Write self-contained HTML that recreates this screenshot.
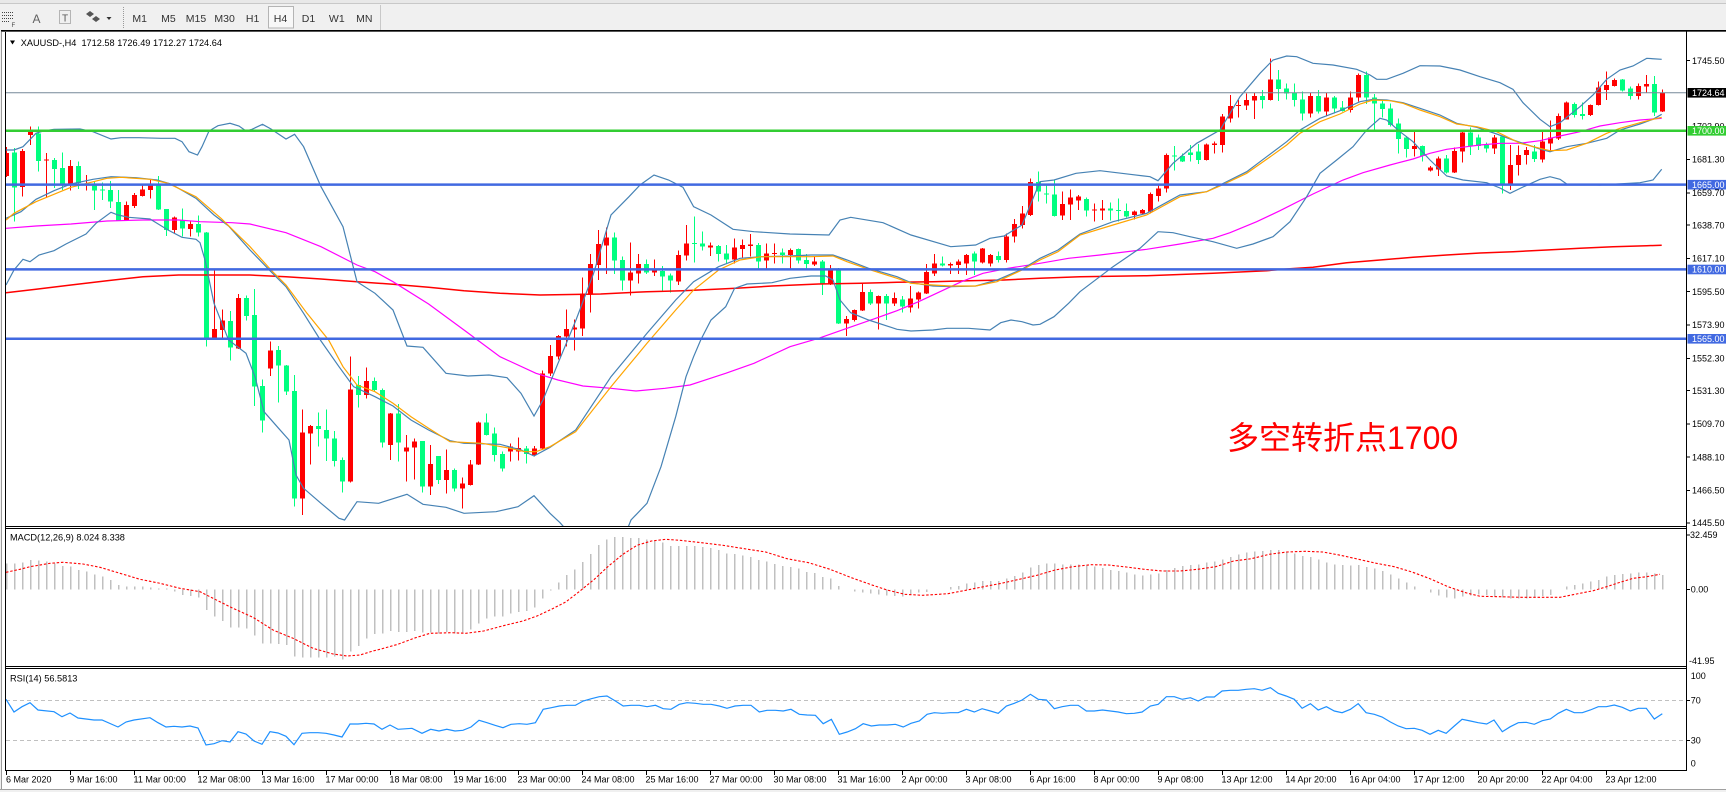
<!DOCTYPE html>
<html><head><meta charset="utf-8">
<style>
html,body{margin:0;padding:0;width:1726px;height:792px;overflow:hidden;background:#f0f0f0;}
svg{display:block;font-family:"Liberation Sans","Noto Sans CJK SC",sans-serif;}
.ax{font-size:9px;fill:#000;}
.tb{font-size:10.5px;fill:#333;text-anchor:middle;}
</style></head><body>
<svg id="s" width="1726" height="792" viewBox="0 0 1726 792" xmlns="http://www.w3.org/2000/svg">
<defs>
<clipPath id="cm"><rect x="6" y="31.5" width="1680" height="494.5"/></clipPath>
<clipPath id="cd"><rect x="6" y="529" width="1680" height="137"/></clipPath>
<clipPath id="cr"><rect x="6" y="669" width="1680" height="101"/></clipPath>
</defs>
<!-- toolbar -->
<rect x="0" y="0" width="1726" height="30" fill="#f0f0f0"/>
<rect x="0" y="0" width="1726" height="3" fill="#e8e8e8"/>
<line x1="0" y1="3.5" x2="1726" y2="3.5" stroke="#c8c8c8"/>
<g stroke="#444" stroke-dasharray="1 1">
<line x1="2" y1="12.5" x2="14" y2="12.5"/><line x1="2" y1="15.5" x2="14" y2="15.5"/>
<line x1="2" y1="18.5" x2="14" y2="18.5"/><line x1="2" y1="21.5" x2="10" y2="21.5"/>
</g>
<text x="11.5" y="27" style="font-size:6px;fill:#444">F</text>
<text x="32.5" y="23" style="font-size:12px;fill:#606060">A</text>
<rect x="59.5" y="10.5" width="11" height="13" fill="none" stroke="#777" stroke-dasharray="1 1"/>
<text x="62" y="21.5" style="font-size:10px;fill:#555">T</text>
<path d="M86 14 L90 11 L94 14 L90 17Z M92 19 L96 16 L100 19 L96 22Z" fill="#555"/>
<polygon points="106.5,17 111.5,17 109,20" fill="#333"/>
<line x1="123.5" y1="7" x2="123.5" y2="28" stroke="#999" stroke-dasharray="1 1"/>
<rect x="268.5" y="6.5" width="25" height="21.5" fill="#f8f8f8" stroke="#b4b4b4"/>
<text class="tb" x="139.7" y="22">M1</text>
<text class="tb" x="168.4" y="22">M5</text>
<text class="tb" x="196" y="22">M15</text>
<text class="tb" x="224.6" y="22">M30</text>
<text class="tb" x="252.6" y="22">H1</text>
<text class="tb" x="280.5" y="22">H4</text>
<text class="tb" x="308.5" y="22">D1</text>
<text class="tb" x="336.8" y="22">W1</text>
<text class="tb" x="364.3" y="22">MN</text>
<line x1="380.5" y1="5" x2="380.5" y2="30" stroke="#c8c8c8"/>

<!-- chart window -->
<rect x="2" y="30" width="1724" height="759" fill="#fff"/>
<rect x="0" y="789" width="1726" height="3" fill="#f0f0f0"/>
<line x1="0" y1="789.5" x2="1726" y2="789.5" stroke="#a0a0a0"/>
<line x1="1.5" y1="30" x2="1.5" y2="789" stroke="#9a9a9a"/>

<!-- RSI levels -->
<g clip-path="url(#cr)" stroke="#c0c0c0" stroke-dasharray="4 3">
<line x1="6" y1="700.5" x2="1686" y2="700.5"/><line x1="6" y1="740.5" x2="1686" y2="740.5"/>
</g>

<!-- candles (JS) -->
<g id="candles" clip-path="url(#cm)" shape-rendering="crispEdges"></g>

<!-- indicators main -->
<g clip-path="url(#cm)" fill="none" stroke-width="1.2">
<polyline stroke="#ff0000" stroke-width="1.5" points="6,292.7 36,289.3 71,285 107,280.7 143,276.7 178.6,275 214,275 250,275 286,276.7 321,279 357,281.7 393,284.3 428.6,287.3 464,290.7 500,293.3 540,295 600.7,294 647,291.7 683,290.7 736,288.3 772,286 818.6,284 861,283.3 897,282.3 933,281.7 968.6,280.7 1004,280 1040,278.3 1080,276.7 1146.7,275.7 1213,273.3 1266.7,270.7 1290,268.7 1313,267.3 1346.7,262.7 1380,260 1413,257.3 1446.7,255 1480,253 1513,251.7 1546.7,250 1580,248.3 1613,246.7 1646.7,245.7 1661.7,245.3"/>
<polyline stroke="#ff00ff" points="6,228.3 36,226 71,224 107,221 143,220 178.6,220 200,221.7 232,222.7 250,224 286,232.7 321,246.7 357,265 375,271.7 393,281.7 428.6,304 464,330 500,356.7 536,373.3 558,380 583,386 611,388.3 636,391 665,388.3 690,385 725.7,373.3 754,363.3 790,346.7 818.6,338.3 847,328.3 875.7,318.3 897,310.7 918.6,301.7 940,291.7 961.4,281.7 983,273.3 1008,268.3 1040,263.3 1068.6,258.3 1100,255 1146.7,249.3 1180,244 1213,238.3 1230,232.7 1256.7,221.7 1280,210.7 1313,194 1343,180 1363,172.7 1390,165 1413,159 1430,153.3 1446.7,149.3 1466.7,146.7 1480,145 1500,143.3 1520,143.3 1540,140.7 1560,136 1580,131.7 1600,126 1620,122.7 1640,120 1661.7,118.3"/>
<polyline stroke="#4682b4" points="6,150 14,150 23,146.7 36,133.3 43,131 54,129.3 80,129 93,131.7 111,139 121,137.7 139,137.7 161,138.3 175,138.3 182,141.7 189,151.7 197.5,155 202,146.7 209,131 218,125.7 230,123.3 239,126 246,131 252,129.3 262.5,124.3 271,129 286,139 294.6,134.3 303.6,146.7 321,186.7 343,226.7 357,281.7 375,293.3 393,310 407,346 423,347.3 446,373.3 468,376 489,375 507,377.7 521,393.3 534,416 543,400 558,363.3 576,320 593.6,273.3 611,215 629,196.7 640,185 654,175 668.6,180 683,187.3 693.6,206.7 711,215 733,229.3 754,231.7 790,234 829,235 840,220 850.7,217.3 883,222.7 911,235 950.7,246.7 975.7,245 990,238.3 1004,236 1022,225 1040,181.7 1054,180 1076,173.3 1100,170.7 1130,174.3 1150,176.7 1158,180.7 1173,163.3 1196.7,143.3 1220,130 1240,96.7 1260,73.3 1273,60 1286.7,56 1296.7,56.7 1313,63.3 1333,65 1356.7,69.3 1370,75 1376.7,79.3 1386.7,79.3 1403,73.3 1420,65.7 1440,66 1460,70 1480,76.7 1500,82.7 1513,89.3 1523,102.7 1540,119.3 1550,126.7 1560,122.7 1580,106.7 1593,95 1606.7,79.3 1620,70 1633,66 1646.7,58.3 1661.7,59.3"/>
<polyline stroke="#4682b4" points="6,218.3 21,211.7 36,199.3 54,190.7 71,184 93,179.3 111,176.7 136,177.7 157,180 171,184 196,198.3 214,215 228.6,226 250,250 271,271.7 286,286.7 303.6,313.3 321,341 339,366.7 353.6,386.7 375,396.7 393,406 411,420 428.6,430 450,440.7 464,443.3 500,444.3 521,450 534,456 550,447.3 575.7,430 611,376.7 647,333.3 675.7,300 693.6,281.7 718.6,266.7 740,258.3 761,256.7 790,256 811,255 833,255 847,260 868.6,268.3 897,276.7 911,282.7 933,286 950.7,286.7 975.7,286 997,280 1022,269.3 1040,258.3 1058,250 1080,234 1113,221.7 1146.7,213.3 1180,195 1206.7,191.7 1220,185 1246.7,171.7 1266.7,156.7 1286.7,141.7 1300,130 1320,118.3 1340,110.7 1360,101.7 1373,99.3 1386.7,100 1403,102.7 1420,108.3 1440,115 1456.7,123.3 1476.7,127.3 1496.7,134 1513,140 1540,149 1550,151.7 1566.7,146.7 1586.7,143.3 1606.7,138.3 1620,130 1640,124 1653,119.3 1661.7,114.3"/>
<polyline stroke="#4682b4" points="6,285 14,270 23,259.3 30,261.7 39,255 54,250.7 66,244 86,234 96,223.3 111,212.3 118,215 128.6,217.3 150,219 157,223.3 168,230 182,237.3 196,239.3 200,242.7 205,260 214,303.3 228.6,340 246,353.3 255,376.7 264,411.7 278.6,428.3 289,440 296,475 303.6,488.3 321,503.3 339,518.3 344.6,520 357,501.7 378.6,503.3 407,494.3 423,504.3 446,507.3 464,513.3 496,511.7 518,506.7 534,495.7 550,513.3 560,522.7 580,545 605,555 625,535 631,520 647,503.3 661,466.7 675.7,416.7 686,376.7 693.6,356.7 700.7,340 711,320 725.7,306.7 734.6,288.3 747,284 772,282.7 790,278.3 811,276 825.7,276 833,280 840,300 850.7,312.7 868.6,320 897,329.3 911,331 933,330 947,328.3 968.6,328.3 990,330 1000.7,322.7 1011,320 1022,321.7 1033,325 1040,324.3 1054,316.7 1068.6,303.3 1080,291.7 1113,266.7 1140,248.3 1158,231.7 1173,232.7 1190,236.7 1213,241.7 1236.7,248.3 1253,244 1273,236.7 1290,221.7 1306.7,196.7 1320,173.3 1336.7,160 1353,146.7 1366.7,130 1380,118.3 1386.7,120 1400,131.7 1413,141.7 1430,160 1446.7,176 1463,180 1486.7,182.7 1500,188 1510,193.3 1523,187 1540,179.3 1550,176.7 1560,179.3 1566.7,184 1600,185 1640,182.7 1653,180 1661.7,169.3"/>
<polyline stroke="#ffa500" points="6,220 14,213.3 36,201.7 71,187.3 107,178.3 121,177.3 150,179.3 168,183.3 196,196.7 221,218.3 250,246.7 271,270 286,285 307,313.3 328.6,340 343,366.7 357,385 375,391.7 393,403.3 411,416.7 428.6,428.3 450,441.7 482,443.3 507,447.7 525,451.7 536,451.7 550,446.7 575.7,431.7 611,386.7 647,343.3 675.7,310 693.6,290 718.6,270 740,260 761,256.7 790,256.7 811,256.7 833,256 847,261.7 868.6,269.3 897,278.3 911,283.3 933,285 950.7,286 975.7,286 997,281.7 1022,270 1040,260 1058,251.7 1080,235 1113,225 1146.7,215 1180,196.7 1206.7,191.7 1220,186 1246.7,173.3 1266.7,159.3 1286.7,145 1300,133.3 1320,121.7 1340,114 1360,104 1373,100 1390,100.7 1403,103.3 1420,110 1440,116.7 1456.7,124 1476.7,126.7 1496.7,131.7 1520,143.3 1540,148.3 1550,150.7 1566.7,150 1586.7,143.3 1606.7,133.3 1620,128.3 1640,122.7 1653,119.3 1661.7,117.3"/>
</g>

<!-- horizontal lines -->
<g clip-path="url(#cm)">
<line x1="6" y1="92.7" x2="1686" y2="92.7" stroke="#778899" stroke-width="1"/>
<line x1="6" y1="130.7" x2="1686" y2="130.7" stroke="#32cd32" stroke-width="2.5"/>
<line x1="6" y1="184.6" x2="1686" y2="184.6" stroke="#4169e1" stroke-width="2.5"/>
<line x1="6" y1="269.4" x2="1686" y2="269.4" stroke="#4169e1" stroke-width="2.5"/>
<line x1="6" y1="338.7" x2="1686" y2="338.7" stroke="#4169e1" stroke-width="2.5"/>
</g>

<text x="1227" y="449" style="font-size:32px;fill:#ff0000;font-family:'Liberation Sans','Noto Sans CJK SC',sans-serif">多空转折点1700</text>

<!-- MACD -->
<g id="macd" clip-path="url(#cd)" shape-rendering="crispEdges"></g>
<g clip-path="url(#cd)">
<polyline fill="none" stroke="#ff0000" stroke-width="1.1" stroke-dasharray="2.5 1.8" points="6,572.3 20,569.3 30,566.7 50,563.3 63,562.3 83,564 100,567.3 120,573.3 140,579.3 160,583.3 180,588.3 200,591.7 213,598.3 233,608.3 253,617.3 273,630 293,638.3 313,648.3 333,654 347,656 360,655 373,651 380,649.3 397.9,644.3 415.7,637.7 430,633.3 451.4,632.7 465.7,633.3 483.6,631 505,625.3 522.9,621 537,616 551.4,609.3 565.7,602 580,591 594.3,579.3 608.6,566 622.9,554.3 637,545.3 651.4,541 665.7,539.3 680,540.3 701.4,542.7 722.9,545.3 744.3,548.7 765.7,552 787,558.7 808.6,562.7 830,569.3 851.4,577.7 872.9,585.3 887,590 905,594.3 922.9,595.3 947.9,593.7 965.7,590.3 983.6,586.7 1001.4,583.3 1019.3,579.3 1037,575.3 1055,570 1072.9,566.7 1090.7,564.7 1108.6,565 1126.4,567 1144.3,569.3 1162,571 1180,571 1197.9,569.3 1215.7,566.7 1233.6,561 1251.4,558.7 1269.3,554.3 1287,552 1305,551.3 1322.9,552 1340.7,555.3 1358.6,559.3 1376.4,563.3 1394.3,566.7 1412,572 1430,578.7 1447.9,586.7 1465.7,592.7 1480,596.3 1500,596.7 1520,597.3 1540,597.3 1560,597.3 1580,593.3 1593.3,590.7 1606.7,586.7 1620,582.3 1633.3,578.3 1646.7,576.7 1660,574.3"/>
</g>

<!-- RSI -->
<g clip-path="url(#cr)">
<polyline fill="none" stroke="#1e90ff" stroke-width="1.2" points="6,699.3 14,712 22,706.7 30,702.7 38,710 54,711.7 62,716.7 70,713 78,718 94,720 102,720 118,727 126,722 134,720 150,717.7 158,722.7 166,727 174,726.3 182,727 190,726 198,728 206,745 214,743.7 222,740.7 230,742 238,731.7 246,734 254,741 262,744.3 270,731.7 278,733 286,736.3 294,744.7 302,733.3 310,732.7 318,732.7 326,733.3 334,735 342,737 350,724 358,724 366,723.3 374,724 382,729.3 390,725 398,729.3 412,728.3 422,733.3 430.7,729.3 439,731 446.8,729.3 455,731 462.9,730.3 471,727 479,720.3 487,722.7 495,725.3 503,727.7 511,724.3 519.3,723.7 527,724.3 535.4,722.7 543.2,709.3 551.4,707.7 559.3,706 567,705.3 575.4,705.3 583.2,701 591.4,698.7 599.3,696.7 607,696 615.4,701 623.2,706 631,705.3 639.3,705.3 647.1,706.7 655.4,705.3 663.2,708.7 671,709.3 679.3,704.3 687,702.7 695.4,703.3 703.2,704.3 711,704.3 719.3,706 727,708.3 735,706 743.2,705.3 751,705.3 759.3,712 767.1,710.3 775.4,710.3 783.2,711 791,709.3 799.3,714.3 807.1,715 815.4,715.3 823.2,723.7 831.4,719.3 839.3,734.3 847.1,732 855.4,728.7 863.2,723.7 871.4,726 879.3,725 887.1,725 895.4,724.3 903.2,727 911,723.3 919.3,721 927.1,714.3 934.3,712.7 942.5,713.3 950.4,712.7 958.2,712.7 966.4,709.3 974.3,712 982.1,708.7 990.4,711 998.2,713.3 1006.4,706 1014.3,703.3 1022.1,700 1030.4,694.3 1038.2,699.3 1046.4,700 1054.3,708.7 1062.1,706.7 1070.4,705.3 1078.2,705.3 1086.4,711 1094.3,711 1102.5,710 1110.4,711 1118.2,712 1126.4,713.7 1134.3,713.3 1142.1,712 1150.4,706 1158.2,704.3 1166.4,696.7 1174.3,696.7 1182.1,699.3 1190.4,697.7 1198.2,701 1206.4,697 1214.3,697 1222.1,691 1230.4,690.3 1238.2,690.3 1246.4,689.3 1254.3,688.7 1262.1,690.3 1270.4,687.7 1278.2,693.3 1286.1,696 1294.3,699.3 1302.1,708.3 1310.4,703.7 1318.2,710 1326.4,706.7 1334.3,711 1342.1,712.7 1350.4,709.3 1358.2,703.7 1366.1,712.7 1374.3,714.3 1382.1,717 1390.4,722 1398.2,726 1406.1,728.7 1414.3,728.3 1422.1,730.3 1430,734.3 1438.2,730.3 1446.1,733.3 1454.3,726 1462.1,719.3 1470.4,721 1478.2,722.7 1486.7,724 1494,720 1502.3,731.7 1510.3,726.7 1518.3,722.7 1526.3,722.3 1534.3,724.3 1542.3,720.7 1550.3,719 1558.3,713.3 1566.3,709.3 1574.3,712.7 1582.3,712.7 1590.3,710 1598.3,706.7 1606.3,706.7 1614.3,705 1622.3,707.3 1630.3,711 1638.3,708.3 1646.3,708.3 1654.3,719 1662.3,713.7"/>
</g>

<!-- frames -->
<g stroke="#000" stroke-width="1" shape-rendering="crispEdges">
<line x1="5.5" y1="30" x2="5.5" y2="771"/>
<line x1="1" y1="30.5" x2="1726" y2="30.5"/>
<line x1="1" y1="31.5" x2="1726" y2="31.5" stroke="#555"/>
<line x1="5" y1="526.5" x2="1687" y2="526.5"/>
<line x1="5" y1="528.5" x2="1687" y2="528.5"/>
<line x1="5" y1="666.5" x2="1687" y2="666.5"/>
<line x1="5" y1="668.5" x2="1687" y2="668.5"/>
<line x1="5" y1="770.5" x2="1687" y2="770.5"/>
<line x1="1686.5" y1="30" x2="1686.5" y2="771"/>
</g>

<!-- titles -->
<polygon points="10,40.5 15,40.5 12.5,44.5" fill="#000"/>
<text x="20.7" y="46" xml:space="preserve" style="font-size:9.2px;fill:#000">XAUUSD-,H4  1712.58 1726.49 1712.27 1724.64</text>
<text x="10" y="540.5" style="font-size:9.2px;fill:#000">MACD(12,26,9) 8.024 8.338</text>
<text x="10" y="681.5" style="font-size:9.2px;fill:#000">RSI(14) 56.5813</text>

<!-- price axis -->
<g stroke="#000" shape-rendering="crispEdges">
<line x1="1686" y1="60.6" x2="1690" y2="60.6"/><line x1="1686" y1="159.5" x2="1690" y2="159.5"/>
<line x1="1686" y1="192.8" x2="1690" y2="192.8"/><line x1="1686" y1="225.1" x2="1690" y2="225.1"/>
<line x1="1686" y1="258.4" x2="1690" y2="258.4"/><line x1="1686" y1="291.7" x2="1690" y2="291.7"/>
<line x1="1686" y1="325" x2="1690" y2="325"/><line x1="1686" y1="358.3" x2="1690" y2="358.3"/>
<line x1="1686" y1="390.6" x2="1690" y2="390.6"/><line x1="1686" y1="423.9" x2="1690" y2="423.9"/>
<line x1="1686" y1="457.2" x2="1690" y2="457.2"/><line x1="1686" y1="490.5" x2="1690" y2="490.5"/>
<line x1="1686" y1="522.8" x2="1690" y2="522.8"/>
<line x1="1686" y1="589.3" x2="1690" y2="589.3"/><line x1="1686" y1="535" x2="1690" y2="535"/>
<line x1="1686" y1="700.5" x2="1690" y2="700.5"/><line x1="1686" y1="740.5" x2="1690" y2="740.5"/>
</g>
<g class="ax">
<text class="ax" x="1692" y="63.8">1745.50</text>
<text class="ax" x="1692" y="129.4">1702.90</text>
<text class="ax" x="1692" y="162.7">1681.30</text>
<text class="ax" x="1692" y="196">1659.70</text>
<text class="ax" x="1692" y="228.3">1638.70</text>
<text class="ax" x="1692" y="261.6">1617.10</text>
<text class="ax" x="1692" y="294.9">1595.50</text>
<text class="ax" x="1692" y="328.2">1573.90</text>
<text class="ax" x="1692" y="361.5">1552.30</text>
<text class="ax" x="1692" y="393.8">1531.30</text>
<text class="ax" x="1692" y="427.1">1509.70</text>
<text class="ax" x="1692" y="460.4">1488.10</text>
<text class="ax" x="1692" y="493.7">1466.50</text>
<text class="ax" x="1692" y="526">1445.50</text>
</g>
<rect x="1687.5" y="88" width="38.5" height="9.6" fill="#000"/>
<text class="ax" x="1692" y="95.9" style="fill:#fff">1724.64</text>
<rect x="1687.5" y="126" width="38.5" height="9.6" fill="#32cd32"/>
<text class="ax" x="1692" y="133.9" style="fill:#fff">1700.00</text>
<rect x="1687.5" y="179.9" width="38.5" height="9.6" fill="#4169e1"/>
<text class="ax" x="1692" y="187.8" style="fill:#fff">1665.00</text>
<rect x="1687.5" y="264.7" width="38.5" height="9.6" fill="#4169e1"/>
<text class="ax" x="1692" y="272.6" style="fill:#fff">1610.00</text>
<rect x="1687.5" y="334" width="38.5" height="9.6" fill="#4169e1"/>
<text class="ax" x="1692" y="341.9" style="fill:#fff">1565.00</text>

<text class="ax" x="1690" y="538.2">32.459</text>
<text class="ax" x="1690.7" y="592.5">0.00</text>
<text class="ax" x="1689" y="663.9">-41.95</text>
<text class="ax" x="1690.7" y="679.2">100</text>
<text class="ax" x="1690.7" y="703.5">70</text>
<text class="ax" x="1690.7" y="743.5">30</text>
<text class="ax" x="1690.7" y="766.5">0</text>

<!-- time axis -->
<g stroke="#000" shape-rendering="crispEdges">
<line x1="6.5" y1="770" x2="6.5" y2="775"/><line x1="70.5" y1="770" x2="70.5" y2="775"/><line x1="134.5" y1="770" x2="134.5" y2="775"/><line x1="198.5" y1="770" x2="198.5" y2="775"/><line x1="262.5" y1="770" x2="262.5" y2="775"/><line x1="326.5" y1="770" x2="326.5" y2="775"/><line x1="390.5" y1="770" x2="390.5" y2="775"/><line x1="454.5" y1="770" x2="454.5" y2="775"/><line x1="518.5" y1="770" x2="518.5" y2="775"/><line x1="582.5" y1="770" x2="582.5" y2="775"/><line x1="646.5" y1="770" x2="646.5" y2="775"/><line x1="710.5" y1="770" x2="710.5" y2="775"/><line x1="774.5" y1="770" x2="774.5" y2="775"/><line x1="838.5" y1="770" x2="838.5" y2="775"/><line x1="902.5" y1="770" x2="902.5" y2="775"/><line x1="966.5" y1="770" x2="966.5" y2="775"/><line x1="1030.5" y1="770" x2="1030.5" y2="775"/><line x1="1094.5" y1="770" x2="1094.5" y2="775"/><line x1="1158.5" y1="770" x2="1158.5" y2="775"/><line x1="1222.5" y1="770" x2="1222.5" y2="775"/><line x1="1286.5" y1="770" x2="1286.5" y2="775"/><line x1="1350.5" y1="770" x2="1350.5" y2="775"/><line x1="1414.5" y1="770" x2="1414.5" y2="775"/><line x1="1478.5" y1="770" x2="1478.5" y2="775"/><line x1="1542.5" y1="770" x2="1542.5" y2="775"/><line x1="1606.5" y1="770" x2="1606.5" y2="775"/>
</g>
<g>
<text class="ax" x="6" y="782.5">6 Mar 2020</text>
<text class="ax" x="69.5" y="782.5">9 Mar 16:00</text>
<text class="ax" x="133.5" y="782.5">11 Mar 00:00</text>
<text class="ax" x="197.5" y="782.5">12 Mar 08:00</text>
<text class="ax" x="261.5" y="782.5">13 Mar 16:00</text>
<text class="ax" x="325.5" y="782.5">17 Mar 00:00</text>
<text class="ax" x="389.5" y="782.5">18 Mar 08:00</text>
<text class="ax" x="453.5" y="782.5">19 Mar 16:00</text>
<text class="ax" x="517.5" y="782.5">23 Mar 00:00</text>
<text class="ax" x="581.5" y="782.5">24 Mar 08:00</text>
<text class="ax" x="645.5" y="782.5">25 Mar 16:00</text>
<text class="ax" x="709.5" y="782.5">27 Mar 00:00</text>
<text class="ax" x="773.5" y="782.5">30 Mar 08:00</text>
<text class="ax" x="837.5" y="782.5">31 Mar 16:00</text>
<text class="ax" x="901.5" y="782.5">2 Apr 00:00</text>
<text class="ax" x="965.5" y="782.5">3 Apr 08:00</text>
<text class="ax" x="1029.5" y="782.5">6 Apr 16:00</text>
<text class="ax" x="1093.5" y="782.5">8 Apr 00:00</text>
<text class="ax" x="1157.5" y="782.5">9 Apr 08:00</text>
<text class="ax" x="1221.5" y="782.5">13 Apr 12:00</text>
<text class="ax" x="1285.5" y="782.5">14 Apr 20:00</text>
<text class="ax" x="1349.5" y="782.5">16 Apr 04:00</text>
<text class="ax" x="1413.5" y="782.5">17 Apr 12:00</text>
<text class="ax" x="1477.5" y="782.5">20 Apr 20:00</text>
<text class="ax" x="1541.5" y="782.5">22 Apr 04:00</text>
<text class="ax" x="1605.5" y="782.5">23 Apr 12:00</text>
</g>
</svg>
<script>
(function(){
var NS="http://www.w3.org/2000/svg";
var D="r 147 153 176 177|g 148 152.7 187.3 221.7|r 149 151 187 196.7|r 126.7 131.7 135 145|g 126.7 133.3 161 171.7|r 153 159.5 160.5 198|g 158 160 169 188|g 152.7 168 184 190|r 160 166 184 190.7|g 161.7 166 183 189|"+
"r 175 184.5 185.5 190.7|g 181 183.3 190.7 210|g 182.7 189.5 190.5 200|g 181 190 201.7 208|g 190 202 220.7 221|r 201.7 205 220.7 221|r 193 195 206 208|r 183.3 189.3 196 196.7|r 179 185 190 198.7|g 176 185 209.3 210|"+
"g 209 209 230 236|r 216.7 217.7 230 233.3|g 208.3 220.7 228.3 236.7|r 220.7 224 229 236.7|g 215.7 224 232.7 236.7|g 232 232.7 338.3 346.7|r 270.7 329 338.3 339|r 309.3 320.7 330 338.3|g 311 321 347.3 360.7|r 294 298 348.3 349|"+
"g 295.3 298 316 320.7|g 289 315 386.7 406|g 379.3 386 420.7 432.7|r 341.7 350.7 368.3 376|g 346 350 365.3 402.7|g 365 365.3 391.7 395|g 375 391 498.7 506.7|r 409.3 432.7 498.7 515|r 425 426 433.3 464.3|g 412.7 426 429 446.7|"+
"g 409.3 430 438.3 461|g 431 438.3 461 466.7|g 457.3 460 481.7 492.7|r 356.7 389.3 481.7 482.7|g 376 385 395 407.3|r 367.3 381 395 398.3|g 377.7 381 390 391|g 388.3 390 442.7 447.3|r 413 413.3 445 460|g 404 413.3 442.7 461.7|"+
"r 435 447.3 451.7 481.7|r 438.3 441.7 447.3 479.3|g 441 441 486.7 492.7|r 445 464 486.7 495|g 456 456 480 484|r 449.3 470 480 493.3|g 468.3 470 488.3 491.7|r 477.7 483.3 488.3 508.3|r 460 464.3 485 485.5|r 421.7 422.7 464.3 465|"+
"g 413.3 422.7 435 435.5|g 427.3 433.3 455 461.7|g 451.7 454 468.3 471.7|r 443.3 446.7 451.7 461.7|r 437.3 448 451.7 460.7|g 446 448.3 454 463.3|r 446 448.3 455 456.7|r 370.7 373.3 448.3 449|r 345 356 373.3 376|r 335 336 356.7 359.3|"+
"r 309.3 329 336.7 346.7|r 319.3 327.7 329.3 350.7|r 277.3 293.3 328.7 336|r 254 264 294 312.7|r 230 244 265 280|r 227.3 237.7 245.7 274|g 232.3 237.7 260.7 274|g 256.7 260 280.7 290.7|r 242.3 272.7 280.7 295.7|r 254 264 273.3 283.3|"+
"g 259.3 264 272.7 274|r 259.3 270.7 272.3 276|g 266 271 276.7 290.7|g 273.3 275.7 280.7 292.7|r 250.7 255 281.7 285|r 225 243.3 255.7 260.7|g 216.7 242.8 243.8 262.7|g 231.7 243.3 246.7 250.7|r 242.7 245.7 247.7 256|g 245 246 254 261.7|"+
"g 245 253.3 259.3 264|r 238.3 247.3 259.3 263.3|r 239.3 245 249 257.3|r 234 244.3 246 256.7|g 243 245 261.7 268.3|r 243.3 253.3 260.7 268.3|r 243.3 252.8 253.8 263.3|g 248.3 252.7 255 263.3|r 248.7 250 255 269.3|g 248.5 249 260.7 263.3|"+
"g 254 260 264 269.3|r 256 261.3 264.7 266|g 260 261.3 283.3 295|r 265 270.7 283.3 285|g 268 270.7 323.3 324|r 316 319 323.3 336|r 309.3 310 320 321.7|r 283.3 292 310.7 311|g 289.3 292 303.3 305|r 295.5 296 303.3 329.3|"+
"g 294 296 303.3 320|r 292.3 298 303.3 306|g 296 299.3 306.7 312.7|r 286 298.3 307.3 312.7|r 291.7 292.7 299.3 308.3|r 264 272 293.3 294|r 254 263.3 273.3 276|g 256.7 263.3 265.7 266.7|r 262.7 264 265.7 274|r 259.3 261.7 265 274|"+
"r 254 255 263.3 275|g 251.7 253.3 261.7 275|r 248 248.5 262.3 263.3|r 254 255 263.3 266.7|g 251.7 256 260 262.7|r 233.3 236.7 260 262.7|r 219 224 236.7 242.7|r 206 213.3 225 228.3|r 178.3 182 215 216|g 171.7 182 191.7 201.7|"+
"g 183.3 193.3 194.7 203.3|g 180 194.3 216 216.5|r 191.7 204 215.7 220|r 189.3 197.3 204.3 220|r 195 196.7 200.7 210|g 197.3 199 210.7 216.7|r 203.3 209.3 210.3 221.7|r 200 208.3 210.7 220|g 202.3 208.3 210.7 220.7|g 198.3 210.2 211.2 221.7|"+
"g 203.3 211 216.7 217.3|r 210.7 211.7 215 219.3|r 209 210 213.3 214|r 192.7 194 211.7 213.3|r 185.7 188.3 196 201.7|r 153.3 155 188.3 192.7|g 146 155.5 156.5 170.7|g 153.3 156 161.7 162|g 145 152.7 155 161.7|g 144 151.7 160 164|"+
"r 143.5 144.3 160 160.5|r 141.7 143.3 145 153.3|r 114 116.7 145 152.7|r 95 106 118.3 122.7|r 100 105.2 106.2 117.3|r 93.3 100 105.7 110|r 92.7 96 100.7 119|g 90 96 100 108.3|r 58.3 79.3 100 100.5|g 70 79.3 89 101|"+
"g 83.3 88.3 93.3 99.3|g 83.3 92.3 100 106.7|g 91.7 99.3 113.3 120.7|r 92.3 96 113.3 117.3|g 90 96 111.7 113.3|r 92.7 97.3 111.7 116.7|g 96 97.3 108.3 113.3|g 101 107.7 111 111.5|r 91.7 97.3 110 112.7|r 73.3 75 97.3 101.7|"+
"g 71.7 75 97.3 104|g 94 97.3 103.3 130|g 100 103.3 109 117.3|g 103.3 108.3 125 126.7|g 118.3 123.3 139 153.3|g 136 137.7 149 157.3|r 129.3 146 149 156.7|g 145.5 146 156 161.7|r 166 167.7 170.7 171.7|r 156.7 158.3 169.3 176|"+
"g 155 158.3 172.3 173.3|r 147.3 151 172.3 172.8|r 129.3 132.7 151.7 162.7|g 127.3 132.7 146.7 155|g 134.3 137.3 146 150|g 142.7 145 148.3 152.7|r 135 137.3 148.3 154|g 136 136.7 183.3 193.3|r 145 165 183.3 190|r 145.5 155 165 175.5|"+
"r 147 150 155 164.5|g 145 151.7 159.2 162|r 131.7 141.7 159.3 162.7|r 120.7 137.3 143.3 151.7|r 113.3 116 138.3 140|r 101.7 102.7 119.3 119.5|g 102.7 104 115 117.3|g 102.7 114 116 119.3|r 104.5 105 115 116|r 81.7 87.3 105 105.5|"+
"r 71.7 85 90 100|r 78.3 80 86 86.5|g 79 79.3 90.7 91.7|g 86.7 88.3 96 99.3|r 83.3 86 96 99.3|r 75 84 86.7 92.7|g 76 84 112.7 116|r 89.4 92.7 111.3 111.8";
var g=document.getElementById("candles");
D.split("|").forEach(function(s,i){
 var p=s.split(" ");var col=p[0]==="r"?"#ff0000":"#00ff7f";
 var h=+p[1],t=+p[2],b=+p[3],l=+p[4];var cx=6+8*i;
 var w=document.createElementNS(NS,"rect");
 w.setAttribute("x",cx);w.setAttribute("y",h);w.setAttribute("width",1);w.setAttribute("height",Math.max(l-h,1));w.setAttribute("fill",col);g.appendChild(w);
 var r=document.createElementNS(NS,"rect");
 r.setAttribute("x",cx-2);r.setAttribute("y",t);r.setAttribute("width",5);r.setAttribute("height",Math.max(b-t,1));r.setAttribute("fill",col);g.appendChild(r);
});
var M=[563.3,563.3,562.7,560,560.7,561.7,563.3,566,566.7,570,571.7,574.3,576.7,580,585,586.7,586.7,586.7,587.3,588.3,588.3,591.7,595,596,597.3,610,616.7,621,627.7,627.7,628.3,635.7,643.3,643.3,644,645,656.7,657.3,657.3,657.3,657.3,656.7,659.3,651.7,646,638.3,634,
633.3,631,632,632,631,632.7,632.7,633.3,632,633.3,632.7,629.3,623.7,618.7,616.7,616.7,613.7,612,611,607.7,598.7,590.3,582.7,575,569.7,562,554,545,539.3,537,537,538,538,539.3,541,542.7,546,546,546,546,547,548,550,553.3,554,555.3,557,560,561.7,564,566,567,568.7,572,573,577,578.7,586,589.3,591.7,592.7,593.7,594.3,595.3,596,596.7,594.3,592.7,592,
588.7,588.7,587,586,583.7,582.7,581,581,581,578.7,576,572.7,567.7,565,563.3,563.7,564.3,564.3,564.3,565.3,566.7,568,570,571,572.7,574.3,575.3,574.7,573.7,570,568,566,565,564.7,562.7,561.7,559.3,557,554.7,552.7,551.7,551,550,550,551.7,553.3,556,557,559.3,562.7,564.3,565,565.3,565,567,568.7,571,574.3,578.7,582.7,586.7,589,592.7,595.3,597.7,598.7,596.7,595.3,594.3,
595,596.7,597.3,598.3,598.3,598.3,597.3,596,595,589.3,586.7,585,583.3,581.7,580,576.7,575,574,573.3,572.7,572.7,573.3,575];
var mg=document.getElementById("macd");var Z=589.3;
M.forEach(function(v,i){
 if(Math.abs(v-Z)<0.6)return;
 var r=document.createElementNS(NS,"rect");var cx=6+8*i;
 r.setAttribute("x",cx);r.setAttribute("y",Math.min(v,Z));r.setAttribute("width",1.3);r.setAttribute("height",Math.abs(v-Z));r.setAttribute("fill","#c0c0c0");mg.appendChild(r);
});
})();
</script>
</body></html>
